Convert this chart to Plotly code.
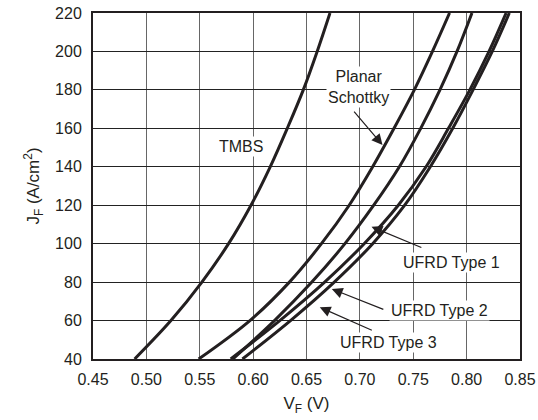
import plotly.graph_objects as go

# Current density levels (A/cm^2)
J_F = [40, 60, 80, 100, 120, 140, 160, 180, 200, 220]

# Forward voltage (V) for each device at the J_F levels above
tmbs = [0.489, 0.523, 0.552, 0.577, 0.598, 0.616, 0.632, 0.647, 0.660, 0.672]
planar_schottky = [0.549, 0.597, 0.634, 0.664, 0.690, 0.712, 0.732, 0.751, 0.768, 0.784]
ufrd_type1 = [0.581, 0.620, 0.655, 0.686, 0.713, 0.737, 0.757, 0.775, 0.791, 0.805]
ufrd_type2 = [0.579, 0.625, 0.667, 0.704, 0.736, 0.762, 0.783, 0.803, 0.821, 0.837]
ufrd_type3 = [0.590, 0.635, 0.676, 0.712, 0.742, 0.766, 0.787, 0.806, 0.824, 0.840]

series = [("TMBS", tmbs), ("Planar Schottky", planar_schottky),
          ("UFRD Type 1", ufrd_type1), ("UFRD Type 2", ufrd_type2),
          ("UFRD Type 3", ufrd_type3)]

x_ticks = [0.45, 0.50, 0.55, 0.60, 0.65, 0.70, 0.75, 0.80, 0.85]
y_ticks = [40, 60, 80, 100, 120, 140, 160, 180, 200, 220]

FONT = "Liberation Sans, Arial, sans-serif"
INK = "#231f20"

fig = go.Figure()
for name, v in series:
    fig.add_trace(go.Scatter(x=v, y=J_F, mode="lines", name=name,
                             line=dict(color=INK, width=3, shape="spline", smoothing=1.0),
                             showlegend=False, hoverinfo="skip"))

# text labels (white backgrounds interrupt the grid)
labels = [
    ("TMBS", 0.589, 150.4),
    ("Planar<br>Schottky", 0.6985, 181.5),
    ("UFRD Type 1", 0.786, 90.3),
    ("UFRD Type 2", 0.775, 65.0),
    ("UFRD Type 3", 0.7265, 48.7),
]
for txt, x, y in labels:
    fig.add_annotation(x=x, y=y, xref="x", yref="y", text=txt, showarrow=False,
                       font=dict(family=FONT, size=16, color=INK),
                       bgcolor="white", borderpad=1)

# arrows: (tip_x, tip_y, tail_x, tail_y)
arrows = [
    (0.7212, 151.3, 0.6934, 169.5),
    (0.7109, 108.8, 0.7590, 97.7),
    (0.6737, 76.4, 0.7234, 65.5),
    (0.6624, 66.9, 0.7126, 54.6),
]
for tx, ty, sx, sy in arrows:
    fig.add_annotation(x=tx, y=ty, ax=sx, ay=sy, xref="x", yref="y",
                       axref="x", ayref="y", text="", showarrow=True,
                       arrowhead=2, arrowsize=1.8, arrowwidth=1.2,
                       arrowcolor=INK, standoff=0, startstandoff=0)

fig.update_layout(
    width=538, height=420,
    margin=dict(l=93, r=18, t=13, b=61),
    paper_bgcolor="white", plot_bgcolor="white",
    font=dict(family=FONT, size=16, color=INK),
)
fig.update_xaxes(range=[0.45, 0.85], tickvals=x_ticks,
                 ticktext=[f"{t:.2f}" for t in x_ticks],
                 showgrid=True, gridcolor="#666666", gridwidth=1,
                 showline=True, linecolor=INK, linewidth=2, mirror=True,
                 ticks="", ticklabelstandoff=5, zeroline=False, automargin=False,
                 tickfont=dict(size=16),
                 title=dict(text="V<sub>F</sub> (V)", font=dict(size=17), standoff=10))
fig.update_yaxes(range=[40, 220], tickvals=y_ticks,
                 showgrid=True, gridcolor="#222222", gridwidth=1,
                 showline=True, linecolor=INK, linewidth=2, mirror=True,
                 ticks="", ticklabelstandoff=6, zeroline=False, automargin=False,
                 tickfont=dict(size=16),
                 title=dict(text="J<sub>F</sub> (A/cm<sup>2</sup>)", font=dict(size=17), standoff=11))

fig.write_html("out.html")
